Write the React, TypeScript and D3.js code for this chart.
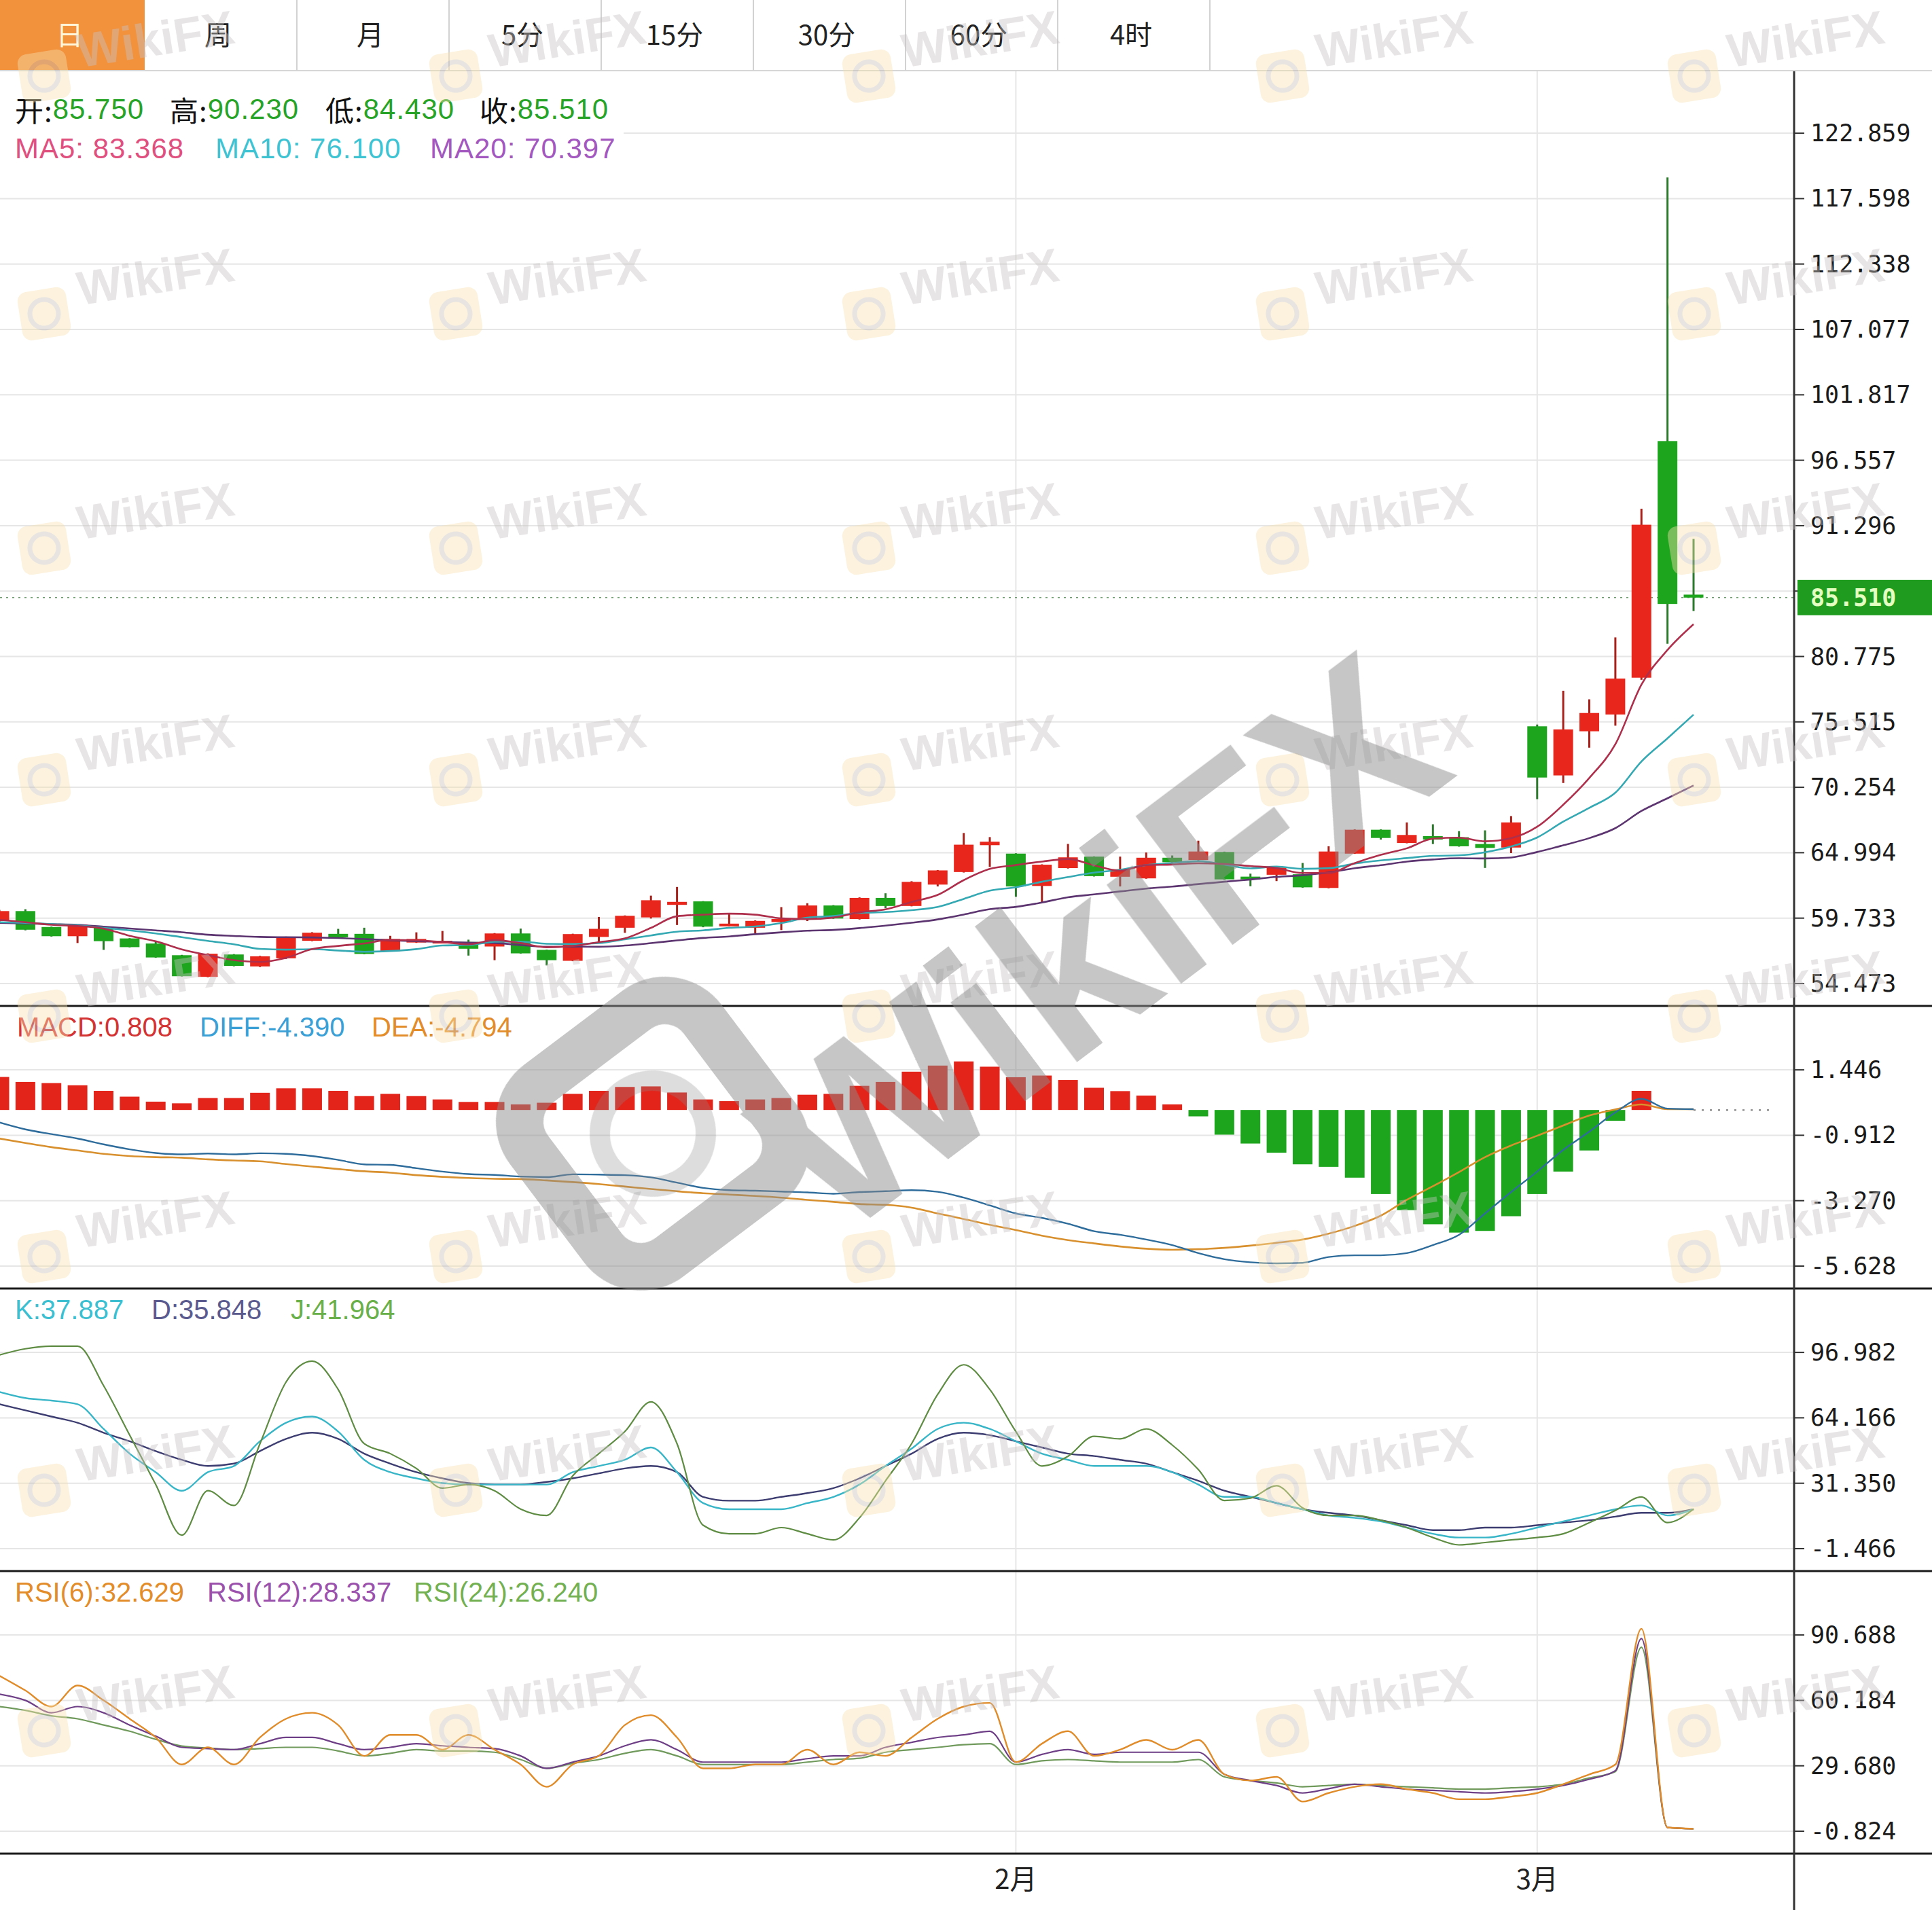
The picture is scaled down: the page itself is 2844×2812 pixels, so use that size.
import React, { useEffect } from "react";
import * as d3 from "d3";

// ---------- data ----------
const tabs = ["日", "周", "月", "5分", "15分", "30分", "60分", "4时"];

const opens = [59.5, 60.3, 59.02, 58.28, 58.96, 58.10, 57.69, 56.75, 55.01, 56.81,
  55.85, 56.50, 57.91, 58.47, 58.47, 57.08, 57.77, 57.73, 57.82, 57.45,
  58.50, 57.18, 56.30, 58.22, 58.96, 59.79, 60.80, 61.08, 59.11, 58.96,
  59.42, 59.66, 60.75, 59.66, 61.36, 60.71, 62.43, 63.44, 65.60, 64.92,
  62.32, 63.76, 64.68, 63.06, 62.93, 64.59, 64.41, 65.05, 63.07, 63.22,
  63.26, 62.16, 64.92, 66.84, 65.78, 66.33, 66.24, 65.69, 65.41, 75.16,
  71.21, 74.76, 76.11, 79.07, 98.1, 85.75];
const highs = [60.4, 60.45, 59.05, 59.2, 59.0, 58.12, 57.88, 56.78, 56.9, 56.84,
  56.7, 58.25, 58.6, 58.87, 58.96, 58.31, 58.59, 58.70, 58.0, 58.53,
  58.89, 57.2, 58.48, 59.83, 59.95, 61.54, 62.24, 61.1, 60.07, 59.55,
  60.62, 60.93, 60.78, 61.4, 61.73, 62.7, 63.6, 66.58, 66.25, 64.95,
  64.06, 65.70, 64.7, 64.68, 65.01, 64.77, 65.96, 65.08, 63.31, 63.83,
  64.17, 65.51, 66.87, 66.87, 67.43, 67.28, 66.73, 66.79, 67.94, 75.3,
  78.02, 77.33, 82.31, 92.66, 119.3, 90.23];
const lows = [59.4, 58.75, 58.25, 57.73, 57.18, 57.38, 56.55, 55.04, 54.98, 55.86,
  55.8, 56.45, 57.88, 58.17, 56.83, 57.05, 57.74, 57.70, 56.72, 56.35,
  56.88, 55.93, 56.27, 57.76, 58.55, 59.70, 59.18, 59.0, 59.08, 58.50,
  58.77, 59.5, 59.68, 59.62, 60.53, 60.68, 62.28, 63.4, 63.85, 61.45,
  60.99, 63.72, 63.08, 62.28, 62.9, 64.04, 64.38, 62.82, 62.30, 62.71,
  62.18, 62.13, 64.9, 66.05, 65.75, 65.69, 65.48, 63.77, 64.96, 69.3,
  70.60, 73.44, 75.21, 78.9, 81.8, 84.43];
const closes = [60.3, 58.8, 58.28, 59.2, 57.88, 57.40, 56.57, 55.06, 56.87, 55.89,
  56.66, 58.22, 58.56, 58.19, 56.85, 58.06, 58.06, 57.91, 57.27, 58.50,
  56.90, 56.35, 58.45, 58.87, 59.92, 61.17, 61.04, 59.05, 59.29, 59.51,
  59.66, 60.75, 59.70, 61.36, 60.71, 62.65, 63.57, 65.64, 65.88, 62.28,
  64.03, 64.62, 63.11, 63.67, 64.59, 64.23, 65.09, 62.85, 62.85, 63.80,
  62.21, 65.09, 66.84, 66.18, 66.42, 66.05, 65.51, 65.38, 67.43, 71.04,
  74.91, 76.23, 79.0, 91.37, 85.0, 85.51];

const ma5 = [59.6, 59.4, 59.2, 59.1, 58.89, 58.31, 57.87, 57.22, 56.76, 56.36,
  56.21, 56.54, 57.24, 57.50, 57.70, 57.98, 57.94, 57.81, 57.63, 57.96,
  57.73, 57.39, 57.49, 57.81, 58.10, 58.95, 59.89, 60.01, 60.09, 60.01,
  59.71, 59.65, 59.78, 60.20, 60.44, 61.03, 61.60, 62.79, 63.69, 64.00,
  64.28, 64.49, 63.98, 63.54, 64.00, 64.04, 64.14, 64.09, 63.92, 63.76,
  63.36, 63.36, 64.16, 64.82, 65.35, 66.12, 66.20, 65.91, 66.16, 67.08,
  68.85, 71.00, 73.72, 78.51, 81.30, 83.37];
const ma10 = [59.4, 59.35, 59.25, 59.15, 58.95, 58.75, 58.5, 58.2, 57.9, 57.63,
  57.26, 57.20, 57.23, 57.13, 57.03, 57.09, 57.24, 57.53, 57.57, 57.83,
  57.85, 57.67, 57.65, 57.72, 58.03, 58.34, 58.64, 58.75, 58.95, 59.06,
  59.33, 59.77, 59.90, 60.15, 60.22, 60.37, 60.63, 61.28, 61.94, 62.22,
  62.66, 63.04, 63.39, 63.62, 64.00, 64.16, 64.31, 64.04, 63.73, 63.88,
  63.70, 63.75, 64.12, 64.37, 64.56, 64.74, 64.78, 65.03, 65.49, 66.22,
  67.49, 68.60, 69.82, 72.33, 74.19, 76.10];
const ma20 = [59.35, 59.3, 59.25, 59.2, 59.05, 58.9, 58.75, 58.6, 58.4, 58.3,
  58.22, 58.2, 58.18, 58.13, 58.05, 57.95, 57.88, 57.82, 57.76, 57.73,
  57.56, 57.43, 57.44, 57.43, 57.53, 57.72, 57.94, 58.14, 58.26, 58.44,
  58.59, 58.72, 58.78, 58.93, 59.13, 59.36, 59.63, 60.02, 60.45, 60.64,
  60.99, 61.41, 61.64, 61.88, 62.11, 62.27, 62.47, 62.66, 62.84, 63.05,
  63.18, 63.40, 63.75, 63.99, 64.28, 64.45, 64.55, 64.53, 64.61, 65.05,
  65.59, 66.17, 66.97, 68.35, 69.37, 70.40];

const macdHist = [1.19, 1.01, 0.97, 0.89, 0.69, 0.48, 0.30, 0.24, 0.43, 0.43,
  0.62, 0.78, 0.78, 0.69, 0.50, 0.58, 0.50, 0.38, 0.29, 0.29,
  0.20, 0.26, 0.58, 0.69, 0.83, 0.85, 0.63, 0.38, 0.32, 0.38,
  0.43, 0.55, 0.58, 0.87, 1.01, 1.38, 1.60, 1.75, 1.56, 1.18,
  1.24, 1.08, 0.80, 0.68, 0.52, 0.20, -0.23, -0.89, -1.21, -1.54,
  -1.96, -2.05, -2.44, -3.03, -3.61, -4.12, -4.42, -4.36, -3.83, -3.03,
  -2.22, -1.46, -0.39, 0.69, 0, 0];
const diffLine = [-0.45, -0.70, -0.87, -1.03, -1.24, -1.42, -1.55, -1.60, -1.57, -1.60,
  -1.56, -1.58, -1.66, -1.80, -1.96, -1.98, -2.10, -2.22, -2.31, -2.34,
  -2.40, -2.42, -2.32, -2.33, -2.35, -2.43, -2.62, -2.81, -2.89, -2.91,
  -2.94, -2.97, -3.02, -2.96, -2.93, -2.89, -2.95, -3.16, -3.44, -3.73,
  -3.89, -4.10, -4.37, -4.50, -4.67, -4.87, -5.16, -5.38, -5.49, -5.53,
  -5.51, -5.30, -5.24, -5.24, -5.16, -4.87, -4.50, -3.73, -2.96, -2.22,
  -1.44, -0.78, -0.09, 0.40, 0.05, 0.03];
const deaLine = [-1.03, -1.19, -1.34, -1.46, -1.58, -1.66, -1.70, -1.72, -1.78, -1.82,
  -1.85, -1.95, -2.04, -2.13, -2.21, -2.26, -2.35, -2.41, -2.45, -2.48,
  -2.49, -2.54, -2.60, -2.67, -2.76, -2.85, -2.93, -3.00, -3.05, -3.10,
  -3.16, -3.24, -3.31, -3.39, -3.42, -3.52, -3.73, -3.93, -4.14, -4.33,
  -4.53, -4.69, -4.81, -4.92, -5.00, -5.04, -5.02, -4.97, -4.89, -4.79,
  -4.67, -4.46, -4.18, -3.81, -3.24, -2.75, -2.24, -1.70, -1.28, -0.93,
  -0.56, -0.20, 0.02, 0.20, 0.03, 0.03];

const kLine = [77.2, 74.1, 72.8, 71.0, 58.6, 46.2, 36.9, 27.6, 36.9, 40.0,
  52.4, 61.7, 64.8, 57.3, 43.1, 36.9, 33.8, 31.4, 30.7, 30.7,
  30.7, 30.7, 36.9, 40.0, 43.1, 49.3, 36.9, 21.4, 18.3, 18.3,
  18.3, 21.4, 24.5, 30.7, 40.0, 48.7, 58.6, 61.7, 58.6, 52.4,
  46.2, 43.1, 40.0, 40.0, 40.0, 36.9, 30.7, 24.5, 24.5, 21.4,
  18.3, 15.2, 14.0, 12.2, 9.1, 6.0, 4.1, 4.1, 6.0, 9.1,
  12.2, 15.2, 18.3, 20.2, 15.2, 18.3];
const dLine = [71.0, 67.9, 64.8, 61.7, 56.7, 52.4, 47.5, 43.1, 40.0, 41.2,
  47.5, 53.6, 56.7, 53.6, 46.2, 41.2, 36.9, 33.8, 31.4, 30.7,
  30.7, 32.0, 33.8, 36.3, 38.8, 40.0, 36.9, 24.5, 22.6, 22.6,
  24.5, 26.4, 28.9, 33.8, 40.0, 46.2, 53.6, 56.7, 55.5, 52.4,
  49.3, 46.2, 45.0, 43.1, 41.2, 36.9, 32.6, 27.6, 24.5, 21.4,
  18.3, 16.5, 15.2, 12.8, 10.3, 7.8, 7.8, 9.1, 9.1, 10.3,
  11.6, 12.8, 14.6, 16.5, 16.5, 18.3];
const jLine = [95.7, 98.8, 100.1, 100.1, 80.3, 55.5, 30.7, 5.3, 27.6, 20.2,
  51.2, 82.1, 92.6, 78.4, 51.2, 46.2, 38.8, 28.9, 30.7, 27.6,
  18.4, 15.2, 35.1, 46.2, 57.3, 72.2, 51.2, 10.3, 6.0, 6.0,
  9.1, 6.0, 2.9, 14.0, 32.6, 51.2, 75.9, 90.8, 78.4, 57.3,
  40.0, 44.9, 54.9, 53.6, 58.6, 50.5, 38.2, 22.7, 23.9, 30.1,
  19.0, 15.2, 15.2, 12.8, 9.1, 4.1, 0.4, 1.6, 2.9, 4.1,
  6.0, 11.6, 17.7, 24.5, 11.6, 18.4];

const rsi6 = [71.7, 64.8, 57.3, 67.1, 60.2, 51.6, 42.9, 30.3, 38.3, 30.3,
  42.9, 51.6, 54.4, 48.7, 34.3, 44.1, 44.1, 37.2, 44.1, 37.2,
  30.3, 19.9, 30.3, 34.3, 48.7, 53.3, 42.9, 28.5, 28.5, 30.3,
  30.3, 37.2, 30.3, 36.0, 34.3, 42.9, 51.6, 57.3, 59.0, 31.4,
  40.0, 45.8, 34.3, 37.2, 41.8, 37.2, 41.8, 25.7, 22.8, 24.5,
  13.0, 17.0, 19.9, 21.1, 18.8, 17.0, 14.1, 14.1, 15.3, 17.0,
  21.1, 25.7, 30.3, 93.6, 0.9, 0.3];
const rsi12 = [63.1, 60.2, 54.4, 57.3, 54.4, 48.7, 43.5, 38.3, 37.7, 37.2,
  40.0, 42.9, 42.9, 40.0, 37.2, 38.3, 40.0, 39.0, 38.3, 37.7,
  34.3, 28.5, 31.4, 34.3, 39.0, 41.8, 37.2, 31.4, 31.4, 31.4,
  31.4, 33.0, 34.3, 34.3, 38.3, 40.6, 42.9, 44.1, 45.8, 31.4,
  35.0, 37.2, 35.0, 36.0, 36.0, 36.0, 36.0, 25.7, 22.8, 20.5,
  17.0, 19.0, 21.1, 19.9, 18.8, 18.2, 17.6, 17.0, 17.6, 18.8,
  20.5, 23.4, 27.4, 89.0, 0.9, 0.3];
const rsi24 = [57.3, 55.5, 53.0, 51.6, 48.7, 45.8, 42.0, 38.9, 38.0, 37.2,
  37.7, 38.3, 38.3, 36.6, 34.3, 35.5, 37.2, 36.6, 36.6, 36.0,
  32.6, 28.5, 30.8, 32.6, 35.5, 37.2, 34.3, 30.3, 30.3, 30.3,
  30.3, 31.4, 32.6, 33.2, 36.0, 37.2, 38.3, 39.5, 40.0, 30.3,
  32.0, 32.6, 32.0, 31.4, 31.4, 31.4, 32.6, 24.5, 22.8, 21.7,
  19.9, 20.5, 21.1, 20.5, 19.9, 19.4, 18.8, 18.8, 19.4, 19.9,
  21.1, 24.0, 27.0, 85.0, 0.9, 0.3];

const priceTicks = [54.473, 59.733, 64.994, 70.254, 75.515, 80.775, 86.036, 91.296,
  96.557, 101.817, 107.077, 112.338, 117.598, 122.859];
const macdTicks = [-5.628, -3.270, -0.912, 1.446];
const kdjTicks = [-1.466, 31.350, 64.166, 96.982];
const rsiTicks = [-0.824, 29.680, 60.184, 90.688];
const monthTicks = [{ index: 39, label: "2月" }, { index: 59, label: "3月" }];
const lastPrice = 85.510;

const ohlcLegend = [
  { label: "开:", value: "85.750" },
  { label: "高:", value: "90.230" },
  { label: "低:", value: "84.430" },
  { label: "收:", value: "85.510" },
];
const maLegend = ["MA5: 83.368", "MA10: 76.100", "MA20: 70.397"];
const macdLegend = ["MACD:0.808", "DIFF:-4.390", "DEA:-4.794"];
const kdjLegend = ["K:37.887", "D:35.848", "J:41.964"];
const rsiLegend = ["RSI(6):32.629", "RSI(12):28.337", "RSI(24):26.240"];

// ---------- layout / style ----------
const W = 2844;
const H = 2812;
const TAB_H = 104;
const AXIS_X = 2641;
const X_FIRST = -1;
const X_LAST = 2493;
const TICK_GAP = 96.3;
const PAD_BOTTOM = 33;
const PANEL_MAIN = { top: TAB_H, bottom: 1481 };
const PANEL_MACD = { top: 1481, bottom: 1897 };
const PANEL_KDJ = { top: 1897, bottom: 2313 };
const PANEL_RSI = { top: 2313, bottom: 2729 };
const BODY_W = 29;

const RED = "#e8261c";
const GREEN = "#1ea51e";
const RED_WICK = "#a8201a";
const GREEN_WICK = "#2b7a2b";
const GRID = "#e6e6e6";
const FONT = "'Liberation Sans', Arial, 'Noto Sans CJK SC', sans-serif";
const CJK = "'Noto Sans CJK SC', 'Liberation Sans', sans-serif";
const MONO = "'DejaVu Sans Mono', monospace";

const TAB_FIRST_W = 213;
const TAB_W = 224;

const wmCols = [65, 671, 1279, 1888, 2494];
const wmRows = [112, 462, 807, 1148, 1496, 1850, 2194, 2548];

function panelScale(ticks: number[], bottom: number) {
  const y0 = bottom - PAD_BOTTOM;
  return d3
    .scaleLinear()
    .domain([ticks[0], ticks[ticks.length - 1]])
    .range([y0, y0 - (ticks.length - 1) * TICK_GAP]);
}

function SmallMark({ cx, cy }: { cx: number; cy: number }) {
  return (
    <g transform={`translate(${cx},${cy}) rotate(-9)`} opacity={0.42}>
      <rect x={-36} y={-36} width={72} height={72} rx={14} fill="#f8e2b0" />
      <circle cx={0} cy={0} r={21} fill="none" stroke="#c9c0b8" strokeWidth={7} />
      <text x={54} y={-4} fontSize={70} fontWeight="bold" fill="#c8c2c2" fontFamily={FONT}>
        WikiFX
      </text>
    </g>
  );
}

export default function App() {
  useEffect(() => {
    document.body.style.margin = "0";
  }, []);

  const n = closes.length;
  const idx = d3.range(n);
  const x = d3.scaleLinear().domain([0, n - 1]).range([X_FIRST, X_LAST]);

  const yP = panelScale(priceTicks, PANEL_MAIN.bottom);
  const yM = panelScale(macdTicks, PANEL_MACD.bottom);
  const yK = panelScale(kdjTicks, PANEL_KDJ.bottom);
  const yR = panelScale(rsiTicks, PANEL_RSI.bottom);

  const mkLine = (ys: d3.ScaleLinear<number, number>) =>
    d3
      .line<number>()
      .x((_, i) => x(i))
      .y((d) => ys(d))
      .curve(d3.curveMonotoneX);

  const lineP = mkLine(yP);
  const lineM = mkLine(yM);
  const lineK = mkLine(yK);
  const lineR = mkLine(yR);

  const tabLeft = (i: number) => (i === 0 ? 0 : TAB_FIRST_W + (i - 1) * TAB_W);
  const tabRight = (i: number) => TAB_FIRST_W + i * TAB_W;

  const yLast = yP(lastPrice);
  const yZero = yM(0);

  const gridLines = (ticks: number[], ys: d3.ScaleLinear<number, number>) =>
    ticks.map((t) => (
      <line key={`g${t}`} x1={0} x2={AXIS_X} y1={ys(t)} y2={ys(t)} stroke={GRID} strokeWidth={2} />
    ));

  const tickLabels = (ticks: number[], ys: d3.ScaleLinear<number, number>, hideNear?: number) =>
    ticks.map((t) => {
      const hidden = hideNear !== undefined && Math.abs(ys(t) - hideNear) < 30;
      return (
        <g key={`t${t}`}>
          <line x1={AXIS_X} x2={AXIS_X + 15} y1={ys(t)} y2={ys(t)} stroke="#333" strokeWidth={2} />
          {!hidden && (
            <text
              x={AXIS_X + 24}
              y={ys(t)}
              dominantBaseline="central"
              fontSize={35}
              fontFamily={MONO}
              fill="#1a1a1a"
            >
              {t.toFixed(3)}
            </text>
          )}
        </g>
      );
    });

  return (
    <svg
      width={W}
      height={H}
      viewBox={`0 0 ${W} ${H}`}
      style={{ position: "absolute", left: 0, top: 0, display: "block", background: "#fff" }}
    >
      <rect x={0} y={0} width={W} height={H} fill="#fff" />

      {/* horizontal grids */}
      {gridLines(priceTicks, yP)}
      {gridLines(macdTicks, yM)}
      {gridLines(kdjTicks, yK)}
      {gridLines(rsiTicks, yR)}

      {/* vertical month grid */}
      {monthTicks.map((m) => (
        <line
          key={`v${m.index}`}
          x1={x(m.index)}
          x2={x(m.index)}
          y1={TAB_H}
          y2={PANEL_RSI.bottom}
          stroke={GRID}
          strokeWidth={2}
        />
      ))}

      {/* legend background in main panel */}
      <rect x={0} y={TAB_H + 2} width={918} height={138} fill="#fff" />

      {/* current price dotted line */}
      <line
        x1={0}
        x2={AXIS_X}
        y1={yLast}
        y2={yLast}
        stroke="#6f9c6f"
        strokeWidth={1.6}
        strokeDasharray="3 6"
      />

      {/* candles */}
      <g>
        {idx.map((i) => {
          const o = opens[i];
          const c = closes[i];
          const up = c >= o;
          const top = yP(Math.max(o, c));
          const bot = yP(Math.min(o, c));
          return (
            <g key={`c${i}`}>
              <line
                x1={x(i)}
                x2={x(i)}
                y1={yP(highs[i])}
                y2={yP(lows[i])}
                stroke={up ? RED_WICK : GREEN_WICK}
                strokeWidth={3}
              />
              <rect
                x={x(i) - BODY_W / 2}
                y={top}
                width={BODY_W}
                height={Math.max(4, bot - top)}
                fill={up ? RED : GREEN}
              />
            </g>
          );
        })}
      </g>

      {/* MA lines */}
      <path d={lineP(ma20) || ""} fill="none" stroke="#5c3470" strokeWidth={2.6} />
      <path d={lineP(ma10) || ""} fill="none" stroke="#35a9b3" strokeWidth={2.6} />
      <path d={lineP(ma5) || ""} fill="none" stroke="#ad2f4c" strokeWidth={2.6} />

      {/* main legend */}
      <g fontFamily={FONT} fontSize={42} letterSpacing={1} dominantBaseline="central">
        {ohlcLegend.map((d, i) => (
          <text key={`o${i}`} x={[22, 250, 479, 706][i]} y={160}>
            <tspan fill="#111" fontFamily={CJK}>{d.label}</tspan>
            <tspan fill="#27a327">{d.value}</tspan>
          </text>
        ))}
        {maLegend.map((d, i) => (
          <text key={`m${i}`} x={[22, 317, 633][i]} y={218} fill={["#e0507f", "#3ec3d3", "#a258be"][i]}>
            {d}
          </text>
        ))}
      </g>

      {/* MACD */}
      <g>
        {idx.map((i) => {
          const v = macdHist[i];
          if (v === 0) return null;
          const y1 = yM(Math.max(0, v));
          const y2 = yM(Math.min(0, v));
          return (
            <rect
              key={`h${i}`}
              x={x(i) - BODY_W / 2}
              y={y1}
              width={BODY_W}
              height={y2 - y1}
              fill={v > 0 ? "#e3241a" : "#1ea51e"}
            />
          );
        })}
      </g>
      <line
        x1={x(n - 1)}
        x2={2610}
        y1={yZero}
        y2={yZero}
        stroke="#777"
        strokeWidth={2}
        strokeDasharray="3 9"
      />
      <path d={lineM(deaLine) || ""} fill="none" stroke="#d8902e" strokeWidth={2.6} />
      <path d={lineM(diffLine) || ""} fill="none" stroke="#2e6c9c" strokeWidth={2.4} />
      <g fontFamily={FONT} fontSize={40} dominantBaseline="central">
        {macdLegend.map((d, i) => (
          <text key={`ml${i}`} x={[25, 294, 547][i]} y={1512} fill={["#d33333", "#3aa0d6", "#e38c2a"][i]}>
            {d}
          </text>
        ))}
      </g>

      {/* KDJ */}
      <path d={lineK(dLine) || ""} fill="none" stroke="#3d3d72" strokeWidth={2.4} />
      <path d={lineK(kLine) || ""} fill="none" stroke="#38b6c8" strokeWidth={2.4} />
      <path d={lineK(jLine) || ""} fill="none" stroke="#5e8c42" strokeWidth={2.2} />
      <g fontFamily={FONT} fontSize={40} dominantBaseline="central">
        {kdjLegend.map((d, i) => (
          <text key={`kl${i}`} x={[22, 223, 428][i]} y={1928} fill={["#3cbfd0", "#5a5a8e", "#69b04a"][i]}>
            {d}
          </text>
        ))}
      </g>

      {/* RSI */}
      <path d={lineR(rsi24) || ""} fill="none" stroke="#6f9a5c" strokeWidth={2.2} />
      <path d={lineR(rsi12) || ""} fill="none" stroke="#6e3f86" strokeWidth={2.2} />
      <path d={lineR(rsi6) || ""} fill="none" stroke="#e08c2a" strokeWidth={2.4} />
      <g fontFamily={FONT} fontSize={40} dominantBaseline="central">
        {rsiLegend.map((d, i) => (
          <text key={`rl${i}`} x={[22, 305, 609][i]} y={2344} fill={["#e38c2a", "#9b52ad", "#72b052"][i]}>
            {d}
          </text>
        ))}
      </g>

      {/* panel separators */}
      {[PANEL_MAIN.bottom, PANEL_MACD.bottom, PANEL_KDJ.bottom, PANEL_RSI.bottom].map((yy) => (
        <line key={`s${yy}`} x1={0} x2={W} y1={yy} y2={yy} stroke="#1a1a1a" strokeWidth={3} />
      ))}

      {/* axis */}
      <line x1={AXIS_X} x2={AXIS_X} y1={TAB_H} y2={H} stroke="#333" strokeWidth={3} />
      {tickLabels(priceTicks, yP, yLast)}
      {tickLabels(macdTicks, yM)}
      {tickLabels(kdjTicks, yK)}
      {tickLabels(rsiTicks, yR)}

      {/* last price label */}
      <rect x={AXIS_X + 5} y={yLast - 26} width={W - AXIS_X - 5} height={52} fill="#1f9c1f" />
      <text
        x={AXIS_X + 24}
        y={yLast}
        dominantBaseline="central"
        fontSize={35}
        fontFamily={MONO}
        fontWeight="bold"
        fill="#e4ffc2"
      >
        {lastPrice.toFixed(3)}
      </text>

      {/* month labels */}
      {monthTicks.map((m) => (
        <text
          key={`ml${m.index}`}
          x={x(m.index)}
          y={2764}
          textAnchor="middle"
          dominantBaseline="central"
          fontSize={40}
          fontFamily={CJK}
          fill="#222"
        >
          {m.label}
        </text>
      ))}

      {/* tab bar */}
      <rect x={0} y={0} width={W} height={TAB_H} fill="#fff" />
      <rect x={0} y={0} width={TAB_FIRST_W} height={TAB_H} fill="#f2923d" />
      <line x1={0} x2={W} y1={TAB_H} y2={TAB_H} stroke="#d6d6d6" strokeWidth={2} />
      {tabs.map((t, i) => (
        <g key={`tab${i}`}>
          {i > 0 && (
            <line x1={tabRight(i)} x2={tabRight(i)} y1={0} y2={TAB_H} stroke="#d2d2d2" strokeWidth={2} />
          )}
          <text
            x={(tabLeft(i) + tabRight(i)) / 2 - 4}
            y={TAB_H / 2 - 3}
            textAnchor="middle"
            dominantBaseline="central"
            fontSize={40}
            fontFamily={CJK}
            fill={i === 0 ? "#fff6dc" : "#222"}
          >
            {t}
          </text>
        </g>
      ))}

      {/* watermarks */}
      {wmRows.map((ry) => wmCols.map((cx) => <SmallMark key={`wm${cx}-${ry}`} cx={cx} cy={ry} />))}
      <g opacity={0.5}>
        <g transform="translate(961,1669) rotate(-37)">
          <rect x={-160} y={-160} width={320} height={320} rx={70} fill="none" stroke="#8c8c8c" strokeWidth={70} />
          <circle cx={0} cy={0} r={78} fill="none" stroke="#8c8c8c" strokeWidth={30} opacity={0.6} />
        </g>
        <text
          transform="translate(1232,1830) rotate(-37)"
          fontSize={345}
          fontWeight="bold"
          fontFamily={FONT}
          fill="#8c8c8c"
        >
          WikiFX
        </text>
      </g>
    </svg>
  );
}
